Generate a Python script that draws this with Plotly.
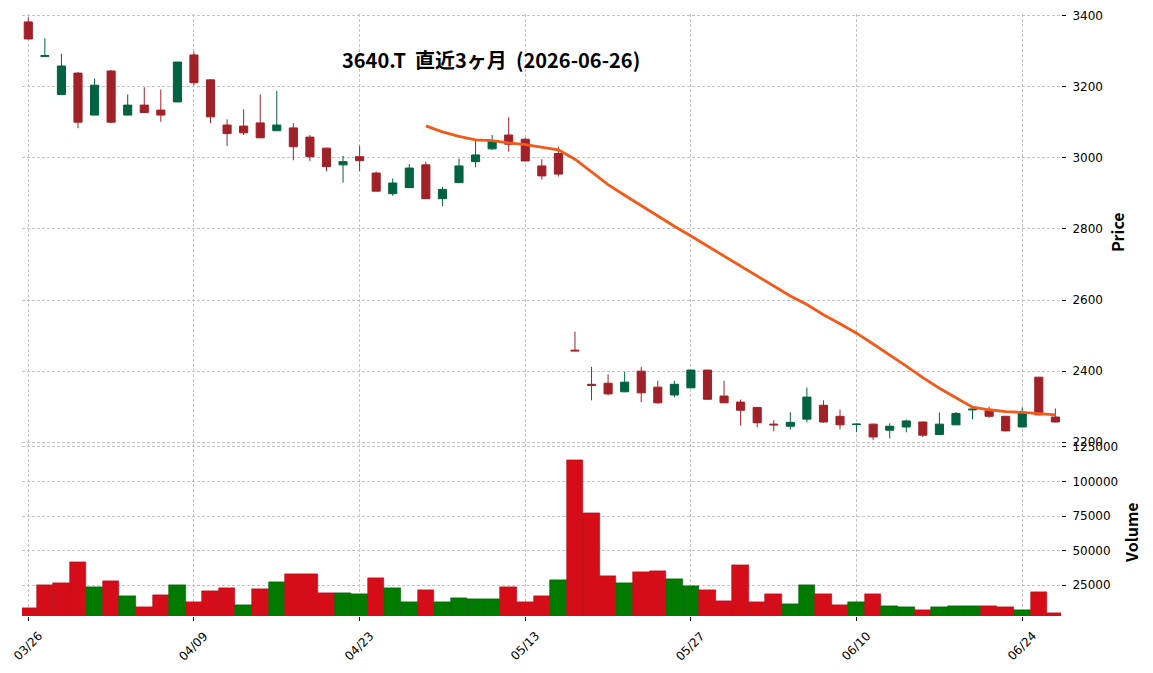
import plotly.graph_objects as go
import pandas as pd

# ---- data ----
dates = ["03/26", "03/27", "03/30", "03/31", "04/01", "04/02", "04/03", "04/06", "04/07", "04/08",
         "04/09", "04/10", "04/13", "04/14", "04/15", "04/16", "04/17", "04/20", "04/21", "04/22",
         "04/23", "04/24", "04/27", "04/28", "04/30", "05/01", "05/07", "05/08", "05/11", "05/12",
         "05/13", "05/14", "05/15", "05/18", "05/19", "05/20", "05/21", "05/22", "05/25", "05/26",
         "05/27", "05/28", "05/29", "06/01", "06/02", "06/03", "06/04", "06/05", "06/08", "06/09",
         "06/10", "06/11", "06/12", "06/15", "06/16", "06/17", "06/18", "06/19", "06/22", "06/23",
         "06/24", "06/25", "06/26"]

opens = [3382, 3285, 3178, 3238, 3120, 3244, 3120, 3148, 3134, 3157,
         3289, 3219, 3092, 3089, 3098, 3076, 3084, 3058, 3027, 2980,
         3003, 2957, 2899, 2916, 2980, 2885, 2930, 2989, 3025, 3064,
         3052, 2977, 3012, 2459, 2363, 2366, 2342, 2400, 2355, 2333,
         2353, 2403, 2330, 2313, 2298, 2251, 2245, 2265, 2304, 2273,
         2250, 2251, 2234, 2243, 2257, 2222, 2249, 2291, 2290, 2273,
         2243, 2383, 2271]
highs = [3395, 3336, 3292, 3241, 3223, 3247, 3178, 3198, 3192, 3270,
         3298, 3220, 3108, 3136, 3178, 3188, 3097, 3064, 3028, 3005,
         3034, 2961, 2942, 2982, 2989, 2918, 2998, 3052, 3064, 3114,
         3057, 2996, 3031, 2511, 2412, 2391, 2398, 2412, 2373, 2373,
         2404, 2404, 2373, 2320, 2299, 2262, 2284, 2354, 2318, 2292,
         2253, 2252, 2253, 2264, 2258, 2284, 2285, 2302, 2300, 2274,
         2298, 2384, 2295]
lows = [3333, 3284, 3176, 3083, 3119, 3097, 3119, 3126, 3101, 3156,
        3204, 3097, 3033, 3064, 3056, 3076, 2993, 2990, 2962, 2930,
        2962, 2906, 2893, 2915, 2884, 2864, 2929, 2973, 3022, 3017,
        2990, 2939, 2947, 2456, 2318, 2332, 2341, 2313, 2308, 2326,
        2352, 2321, 2310, 2247, 2242, 2231, 2236, 2256, 2255, 2236,
        2228, 2206, 2211, 2228, 2215, 2221, 2248, 2264, 2269, 2231,
        2242, 2276, 2256]
closes = [3334, 3287, 3258, 3100, 3204, 3100, 3148, 3127, 3120, 3269,
          3211, 3115, 3068, 3070, 3056, 3092, 3031, 3003, 2975, 2989,
          2992, 2906, 2929, 2971, 2885, 2911, 2977, 3008, 3048, 3038,
          2991, 2949, 2954, 2457, 2360, 2336, 2369, 2339, 2311, 2363,
          2403, 2321, 2311, 2290, 2255, 2249, 2256, 2327, 2257, 2249,
          2251, 2215, 2245, 2260, 2220, 2251, 2281, 2293, 2273, 2232,
          2281, 2277, 2257]
volumes = [8400, 25000, 26400, 41600, 23600, 27900, 17100, 9100, 17800, 25000,
           12700, 20700, 22800, 10500, 22100, 27200, 32900, 32900, 19200, 19200,
           18500, 30100, 22800, 12700, 21400, 12700, 15600, 14900, 14900, 23600,
           12700, 17100, 28600, 115300, 77000, 31500, 26400, 34400, 35100, 29300,
           24300, 21400, 13400, 39400, 12700, 18500, 11300, 25000, 18500, 10500,
           12700, 18500, 9800, 9100, 6900, 9100, 9800, 9800, 9800, 9100,
           6900, 19900, 4800]

tick_every = 10
ma_window = 25
price_ticks = [2200, 2400, 2600, 2800, 3000, 3200, 3400]
volume_ticks = [25000, 50000, 75000, 100000, 125000]

# ---- derived ----
xs = list(range(len(dates)))
ma = pd.Series(closes).rolling(ma_window).mean()
UP_C, DN_C = "#006340", "#a02128"
VUP_C, VDN_C = "#007a00", "#d50d18"
vcolors = [VDN_C if i == 0 or closes[i] < closes[i - 1] else VUP_C for i in xs]
vedges = ["#006000" if c == VUP_C else "#b00a14" for c in vcolors]

fig = go.Figure()
fig.add_trace(go.Candlestick(
    x=xs, open=opens, high=highs, low=lows, close=closes,
    xaxis="x2", yaxis="y",
    increasing=dict(line=dict(color=UP_C, width=1), fillcolor=UP_C),
    decreasing=dict(line=dict(color=DN_C, width=1), fillcolor=DN_C),
    whiskerwidth=0, showlegend=False,
))
fig.add_trace(go.Scatter(
    x=xs, y=ma, mode="lines", xaxis="x2", yaxis="y",
    line=dict(color="#f35a1a", width=2.8), showlegend=False,
))
fig.add_trace(go.Bar(
    x=xs, y=volumes, xaxis="x", yaxis="y2",
    marker=dict(color=vcolors, line=dict(color=vedges, width=0.6)),
    showlegend=False,
))

grid = dict(showgrid=True, gridcolor="#c4c4c4", gridwidth=0.8, griddash="3px,2px")
tickfont = dict(family="DejaVu Sans", size=12, color="black")
xrange = [-0.38, 62.34]
tickvals = xs[::tick_every]
ticktext = dates[::tick_every]

# rotated date labels centred under each tick (matplotlib style)
date_annotations = [
    dict(text=t, x=v, xref="x", y=-0.0502, yref="paper", textangle=-45,
         xanchor="center", yanchor="middle", showarrow=False, font=tickfont)
    for v, t in zip(tickvals, ticktext)
]

fig.update_layout(
    width=1153, height=673,
    margin=dict(l=22, r=92, t=14, b=57, autoexpand=False),
    paper_bgcolor="white", plot_bgcolor="white",
    bargap=0,
    xaxis=dict(domain=[0, 1], anchor="y2", range=xrange, tickvals=tickvals,
               showticklabels=False, ticks="outside", ticklen=4, tickcolor="black",
               showline=False, zeroline=False, automargin=False,
               rangeslider=dict(visible=False), **grid),
    xaxis2=dict(domain=[0, 1], anchor="y", matches="x", range=xrange, tickvals=tickvals,
                showticklabels=False, ticks="", showline=False, zeroline=False, automargin=False,
                rangeslider=dict(visible=False), **grid),
    yaxis=dict(domain=[0.2854, 1], side="right", range=[2194.6, 3404.2], tickvals=price_ticks,
               tickformat="d", ticks="outside", ticklen=4, tickcolor="black", tickfont=tickfont,
               ticklabelstandoff=4,
               showline=False, zeroline=False, automargin=False, **grid),
    yaxis2=dict(domain=[0, 0.2854], side="right", range=[2800, 126990], tickvals=volume_ticks,
                tickformat="d", ticks="outside", ticklen=4, tickcolor="black", tickfont=tickfont,
                ticklabelstandoff=4,
                showline=False, zeroline=False, automargin=False, **grid),
    annotations=date_annotations + [
        dict(text="<b>3640.T  直近3ヶ月  (2026-06-26)</b>", x=0.4514, y=0.9236, xref="paper", yref="paper",
             xanchor="center", yanchor="middle", showarrow=False,
             font=dict(family="Noto Sans CJK JP", size=20, color="black")),
        dict(text="<b>Price</b>", x=1.0539, y=0.6377, xref="paper", yref="paper", textangle=-90,
             xanchor="center", yanchor="middle", showarrow=False,
             font=dict(family="Noto Sans CJK JP", size=16, color="black")),
        dict(text="<b>Volume</b>", x=1.068, y=0.1391, xref="paper", yref="paper", textangle=-90,
             xanchor="center", yanchor="middle", showarrow=False,
             font=dict(family="Noto Sans CJK JP", size=16, color="black")),
    ],
)

fig.write_html("out.html")
